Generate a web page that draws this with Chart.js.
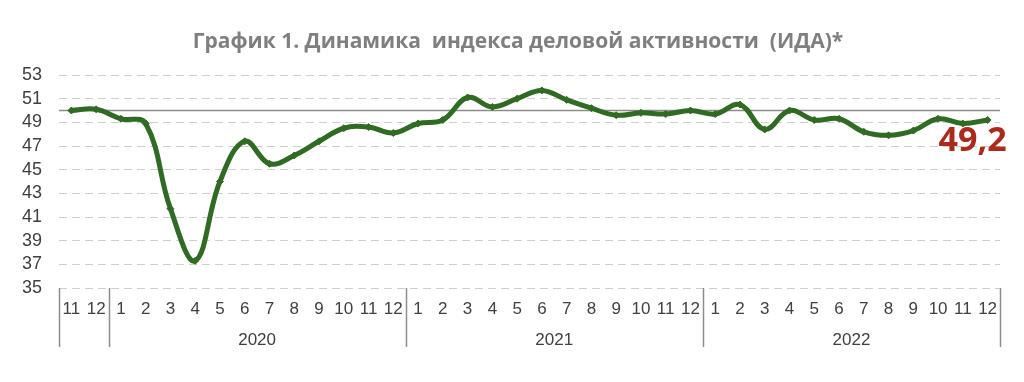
<!DOCTYPE html>
<html>
<head>
<meta charset="utf-8">
<script src="https://cdn.jsdelivr.net/npm/chart.js@4/dist/chart.umd.min.js"></script>
<style>
  html, body { margin: 0; padding: 0; background: #fff; }
  #wrap { width: 1024px; height: 382px; }
</style>
</head>
<body>
<div id="wrap"><canvas id="ida-chart" width="1024" height="382"></canvas></div>
<script>
// month labels: 11-12 of 2019, then 2020..2022
const months = ['11', '12',
    '1', '2', '3', '4', '5', '6', '7', '8', '9', '10', '11', '12',
    '1', '2', '3', '4', '5', '6', '7', '8', '9', '10', '11', '12',
    '1', '2', '3', '4', '5', '6', '7', '8', '9', '10', '11', '12'];

const years = ['2020', '2021', '2022'];
const yearStart = [2, 14, 26];   // index of January in each year

const idaValues = [50.0, 50.1,
    49.3, 48.9, 41.7, 37.3, 44.0, 47.4, 45.5, 46.2, 47.4, 48.5, 48.6, 48.1,
    48.9, 49.2, 51.1, 50.3, 51.0, 51.7, 50.9, 50.2, 49.6, 49.8, 49.7, 50.0,
    49.7, 50.5, 48.4, 50.0, 49.2, 49.3, 48.2, 47.9, 48.3, 49.3, 48.9, 49.2];

const yTicks = [35, 37, 39, 41, 43, 45, 47, 49, 51, 53];
const baseLevel = 50;
const lastLabel = '49,2';
const chartTitle = 'График 1. Динамика  индекса деловой активности  (ИДА)*';

const extras = {
    id: 'extras',
    beforeDatasetsDraw(chart) {
        const { ctx, chartArea, scales } = chart;
        const y = scales.y.getPixelForValue(baseLevel);
        ctx.save();
        ctx.strokeStyle = '#8c8c8c';
        ctx.lineWidth = 1.5;
        ctx.beginPath();
        ctx.moveTo(chartArea.left, y);
        ctx.lineTo(chartArea.right, y);
        ctx.stroke();
        ctx.restore();
    },
    afterDraw(chart) {
        const { ctx, chartArea, scales } = chart;
        const x = scales.x;
        const half = (x.getPixelForValue(1) - x.getPixelForValue(0)) / 2;
        const edge = i => i < months.length ? x.getPixelForValue(i) - half : x.getPixelForValue(months.length - 1) + half;
        const edges = [0].concat(yearStart, [months.length]);

        ctx.save();
        // title
        ctx.fillStyle = '#7f7f7f';
        ctx.font = 'bold 21px "Open Sans", "Noto Sans", sans-serif';
        ctx.textAlign = 'center';
        ctx.textBaseline = 'middle';
        ctx.fillText(chartTitle, 518, 42);

        // group separators below the axis
        ctx.strokeStyle = '#8c8c8c';
        ctx.lineWidth = 1.5;
        edges.forEach(i => {
            const px = Math.round(edge(i)) + 0.5;
            ctx.beginPath();
            ctx.moveTo(px, chartArea.bottom);
            ctx.lineTo(px, chartArea.bottom + 59);
            ctx.stroke();
        });

        ctx.fillStyle = '#404040';
        ctx.font = '17px "Liberation Sans", Arial, sans-serif';
        years.forEach((yr, k) => {
            const a = edge(yearStart[k]);
            const b = edge(k + 1 < yearStart.length ? yearStart[k + 1] : months.length);
            ctx.fillText(yr, (a + b) / 2, chartArea.bottom + 52);
        });

        const last = idaValues.length - 1;
        const lx = x.getPixelForValue(last);
        const ly = scales.y.getPixelForValue(idaValues[last]);
        ctx.fillStyle = '#ab2a1c';
        ctx.font = 'bold 34px "Open Sans", "Noto Sans", sans-serif';
        ctx.textBaseline = 'alphabetic';
        ctx.fillText(lastLabel, lx - 15, ly + 31);
        ctx.restore();
    }
};

const ctx = document.getElementById('ida-chart').getContext('2d');
new Chart(ctx, {
    type: 'line',
    data: {
        labels: months,
        datasets: [{
            label: 'ИДА',
            data: idaValues,
            borderColor: '#2f6b22',
            backgroundColor: '#2f6b22',
            borderWidth: 5,
            tension: 0.4,
            pointStyle: 'rectRot',
            pointRadius: 3.5,
            pointBorderWidth: 1,
            fill: false
        }]
    },
    options: {
        responsive: false,
        animation: false,
        layout: { padding: { left: 0, right: 24, top: 75, bottom: 0 } },
        plugins: {
            legend: { display: false },
            tooltip: { enabled: false },
            title: { display: false }
        },
        scales: {
            x: {
                offset: true,
                grid: { display: false, drawTicks: false },
                border: { display: false },
                ticks: {
                    autoSkip: false,
                    maxRotation: 0,
                    padding: 11,
                    color: '#404040',
                    font: { family: '"Liberation Sans", Arial, sans-serif', size: 17 }
                },
                afterFit(scale) { scale.height = 94; }
            },
            y: {
                min: 35,
                max: 53,
                afterBuildTicks(scale) { scale.ticks = yTicks.map(v => ({ value: v })); },
                grid: { color: '#cfcfcf', lineWidth: 1, drawTicks: false },
                border: { display: false, dash: [8, 5] },
                ticks: {
                    autoSkip: false,
                    padding: 17,
                    color: '#404040',
                    font: { family: '"Liberation Sans", Arial, sans-serif', size: 18 }
                },
                afterFit(scale) { scale.width = 59; }
            }
        }
    },
    plugins: [extras]
});
</script>
</body>
</html>
